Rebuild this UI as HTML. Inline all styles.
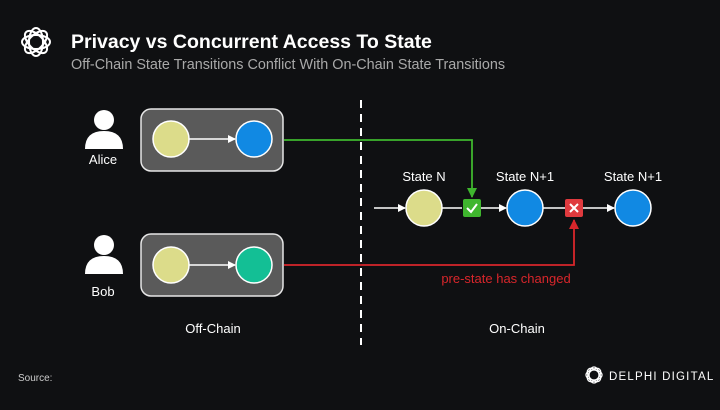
<!DOCTYPE html>
<html><head><style>
body{margin:0;width:720px;height:405px;background:#0f1012;overflow:hidden;font-family:"Liberation Sans",sans-serif}
</style></head><body>
<svg width="720" height="405" xmlns="http://www.w3.org/2000/svg" font-family="Liberation Sans, sans-serif">
<defs>
<marker id="aw" markerWidth="8" markerHeight="8" refX="7" refY="4" orient="auto" markerUnits="userSpaceOnUse"><path d="M0,0L8,4L0,8z" fill="#fff"/></marker>
<marker id="ag" markerWidth="10" markerHeight="10" refX="9" refY="5" orient="auto" markerUnits="userSpaceOnUse"><path d="M0,0L10,5L0,10z" fill="#3fb62e"/></marker>
<marker id="ar" markerWidth="10" markerHeight="10" refX="9" refY="5" orient="auto" markerUnits="userSpaceOnUse"><path d="M0,0L10,5L0,10z" fill="#d8262b"/></marker>
</defs>
<g fill="none" stroke="#fff" stroke-width="2">
<ellipse cx="36" cy="42" rx="7" ry="14"/><ellipse cx="36" cy="42" rx="14" ry="7"/>
<ellipse cx="36" cy="42" rx="7" ry="14" transform="rotate(45 36 42)"/><ellipse cx="36" cy="42" rx="7" ry="14" transform="rotate(-45 36 42)"/>
</g>
<text x="71" y="48" fill="#fff" font-size="19.5" font-weight="bold">Privacy vs Concurrent Access To State</text>
<text x="71" y="69" fill="#a9a9a9" font-size="14.4">Off-Chain State Transitions Conflict With On-Chain State Transitions</text>
<g fill="#fff"><circle cx="104" cy="120" r="10"/><path d="M85,149 Q85,131 104,131 Q123,131 123,149z"/>
<circle cx="104" cy="245" r="10"/><path d="M85,274 Q85,256 104,256 Q123,256 123,274z"/></g>
<text x="103" y="164" fill="#fff" font-size="13" text-anchor="middle">Alice</text>
<text x="103" y="296" fill="#fff" font-size="13" text-anchor="middle">Bob</text>
<rect x="141" y="109" width="142" height="62" rx="10" fill="#5a5a5a" stroke="#e6e6e6" stroke-width="1.5"/>
<rect x="141" y="234" width="142" height="62" rx="10" fill="#5a5a5a" stroke="#e6e6e6" stroke-width="1.5"/>
<line x1="189" y1="139" x2="235" y2="139" stroke="#fff" stroke-width="1.5" marker-end="url(#aw)"/>
<line x1="189" y1="265" x2="235" y2="265" stroke="#fff" stroke-width="1.5" marker-end="url(#aw)"/>
<circle cx="171" cy="139" r="18" fill="#dcdc8a" stroke="#fff" stroke-width="1.5"/>
<circle cx="254" cy="139" r="18" fill="#1189e3" stroke="#fff" stroke-width="1.5"/>
<circle cx="171" cy="265" r="18" fill="#dcdc8a" stroke="#fff" stroke-width="1.5"/>
<circle cx="254" cy="265" r="18" fill="#13bf95" stroke="#fff" stroke-width="1.5"/>
<line x1="361" y1="100" x2="361" y2="345" stroke="#fff" stroke-width="2" stroke-dasharray="8,6"/>
<polyline points="284,140 472,140 472,197" fill="none" stroke="#3fb62e" stroke-width="1.8" marker-end="url(#ag)"/>
<polyline points="284,265 574,265 574,220" fill="none" stroke="#d8262b" stroke-width="1.8" marker-end="url(#ar)"/>
<line x1="374" y1="208" x2="405" y2="208" stroke="#fff" stroke-width="1.5" marker-end="url(#aw)"/>
<line x1="442" y1="208" x2="462" y2="208" stroke="#fff" stroke-width="1.5"/>
<line x1="481" y1="208" x2="506" y2="208" stroke="#fff" stroke-width="1.5" marker-end="url(#aw)"/>
<line x1="543" y1="208" x2="565" y2="208" stroke="#fff" stroke-width="1.5"/>
<line x1="583" y1="208" x2="614" y2="208" stroke="#fff" stroke-width="1.5" marker-end="url(#aw)"/>
<circle cx="424" cy="208" r="18" fill="#dcdc8a" stroke="#fff" stroke-width="1.5"/>
<circle cx="525" cy="208" r="18" fill="#1189e3" stroke="#fff" stroke-width="1.5"/>
<circle cx="633" cy="208" r="18" fill="#1189e3" stroke="#fff" stroke-width="1.5"/>
<rect x="463" y="199" width="18" height="18" rx="2" fill="#3fb62e"/>
<path d="M467,208 L471,212 L477,204" stroke="#fff" stroke-width="2" fill="none"/>
<rect x="565" y="199" width="18" height="18" rx="2" fill="#e03a3e"/>
<path d="M570,204 L578,212 M578,204 L570,212" stroke="#fff" stroke-width="2"/>
<g fill="#fff" font-size="13" text-anchor="middle">
<text x="424" y="181">State N</text><text x="525" y="181">State N+1</text><text x="633" y="181">State N+1</text>
<text x="213" y="333">Off-Chain</text><text x="517" y="333">On-Chain</text></g>
<text x="506" y="283" fill="#d8262b" font-size="13" text-anchor="middle">pre-state has changed</text>
<text x="18" y="381" fill="#ccc" font-size="10">Source:</text>
<g fill="none" stroke="#fff" stroke-width="1.3">
<ellipse cx="594" cy="375" rx="5" ry="8"/><ellipse cx="594" cy="375" rx="8" ry="5"/>
<ellipse cx="594" cy="375" rx="5" ry="8" transform="rotate(45 594 375)"/><ellipse cx="594" cy="375" rx="5" ry="8" transform="rotate(-45 594 375)"/></g>
<text x="609" y="380" fill="#fff" font-size="11.5" letter-spacing="1.2">DELPHI DIGITAL</text>
</svg>
</body></html>
